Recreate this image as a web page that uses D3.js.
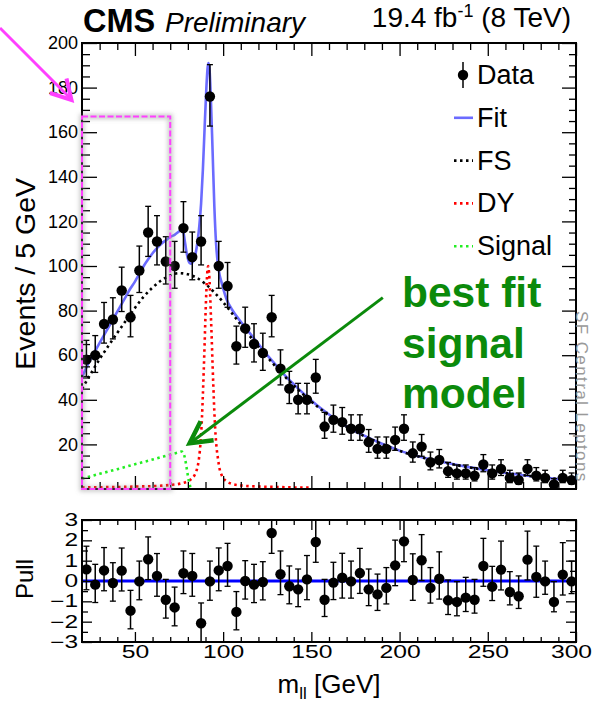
<!DOCTYPE html>
<html><head><meta charset="utf-8">
<script src="https://cdn.jsdelivr.net/npm/d3@7/dist/d3.min.js"></script>
<style>
html,body{margin:0;padding:0;background:#fff;}
svg{display:block;font-family:"Liberation Sans",Arial,Helvetica,sans-serif;}
</style></head><body>
<svg id="chart" width="592" height="702"></svg>
<script>
// Dilepton invariant mass, 5 GeV bins
const binCenters = [22.5,27.5,32.5,37.5,42.5,47.5,52.5,57.5,62.5,67.5,72.5,77.5,82.5,87.5,92.5,97.5,102.5,107.5,112.5,117.5,122.5,127.5,132.5,137.5,142.5,147.5,152.5,157.5,162.5,167.5,172.5,177.5,182.5,187.5,192.5,197.5,202.5,207.5,212.5,217.5,222.5,227.5,232.5,237.5,242.5,247.5,252.5,257.5,262.5,267.5,272.5,277.5,282.5,287.5,292.5,297.5];
const counts = [58,60,74,76,89,77,98,115,111,102,100,117,104,111,176,100,91,64,72,65,61,77,54,45,40,40,50,28,31,30,27,27,21,18,18,22,27,16,19,12,13,8,7,7,6,11,7,9,5,4,9,6,5,2,5,4];
const pulls = [0.57,-0.18,0.52,-0.10,0.51,-1.46,-0.02,1.07,0.25,-0.92,-1.30,0.38,0.25,-2.08,-0.02,0.52,0.74,-1.52,0.00,-0.18,-0.05,2.36,0.33,-0.26,-0.41,0.08,1.92,-0.92,-0.08,0.16,-0.02,0.39,-0.41,-0.66,-0.34,0.77,1.95,0.05,1.02,-0.34,0.11,-0.95,-1.03,-0.82,-0.92,0.74,-0.28,0.56,-0.54,-0.75,1.05,0.20,-0.02,-1.03,0.31,-0.02];

// Fit model curves (mass in GeV, events / 5 GeV)
const fitMass = [20,22.5,25,27.5,30,32.5,35,37.5,40,42.5,45,47.5,50,52.5,55,57.5,60,62.5,65,67.5,70,72.5,75,76.5,77.5,78.5,79.5,80.5,81.5,82.5,83.5,84.5,85.5,86.5,87.5,88.5,89.5,90.5,91.2,91.7,92.3,93,94,95,96,97,98,99,100,102,105,110,115,120,125,130,135,140,145,150,155,160,165,170,175,180,185,190,195,200,210,220,230,240,250,260,270,280,290,300];
const fitVals = [50,54.5,58.5,62,65.5,69,72.5,76,79.5,83,86.5,90,93,96.5,100,103,105.7,108,110,111.5,113,114,115.5,116.5,115,110,105,102,101,101.5,103,106,111,118,128,143,162,180,189,191,188,176,152,127,110,101,96,93,90,85,80.5,75,70,65,60,55.5,51,47,43.2,39.7,36.4,33.4,30.6,28.1,25.9,23.9,22.0,20.3,18.7,17.2,14.8,12.9,11.2,9.7,8.4,7.2,6.2,5.3,4.5,3.8];
const fsMass = [20,25,30,35,40,45,50,55,60,65,70,75,80,85,90,95,100,105,110,115,120,125,130,135,140,145,150,155,160,165,170,175,180,185,190,195,200,210,220,230,240,250,260,270,280,290,300];
const fsVals = [45,51.7,58.3,64.2,70,75.6,81.2,86.3,90.3,93.6,95.8,96.8,96.3,94.7,91.9,88.2,83.8,78.8,73.7,68.7,63.9,59.2,54.7,50.4,46.4,42.7,39.2,36.0,33.0,30.3,27.9,25.7,23.7,21.9,20.2,18.6,17.1,14.7,12.8,11.1,9.6,8.3,7.2,6.2,5.3,4.5,3.8];
const dyMass = [20,30,40,50,60,70,75,80,82,84,85,86,87,88,88.5,89,89.5,90,90.5,91,91.5,92,92.5,93,93.5,94,94.5,95,96,97,98,99,100,102,105,110,120,130,140,150];
const dyVals = [0.7,0.8,0.9,1.1,1.3,1.8,2.3,3.5,4.5,6.5,8.5,12,19,32,42,53,65,78,89,97,100,97,90,79,68,56,45,35,21,14,9,6.5,5,3.4,2.3,1.6,1.1,0.9,0.7,0.6];
const sigMass = [20,30,40,50,60,70,75,76.5,77.5,78.5,79.5,80.5,81.5,82];
const sigVals = [4.6,6.8,8.9,11.1,13.2,15.4,16.5,16.8,16.0,13.3,8.5,3.8,0.9,0.2];

// Axis ticks
const massMajor = [50,100,150,200,250,300];
const massMinor = [30,40,60,70,80,90,110,120,130,140,160,170,180,190,210,220,230,240,260,270,280,290];
const evtMajor = [20,40,60,80,100,120,140,160,180,200];
const evtMinor = d3.range(5, 200, 5).filter(v => v % 20 !== 0);
const pullMajor = [-3,-2,-1,0,1,2,3];
const pullMinor = [-2.5,-1.5,-0.5,0.5,1.5,2.5];

const legendItems = [
  {label: "Data", kind: "data"},
  {label: "Fit", kind: "line", color: "#6b6bff", dash: null},
  {label: "FS", kind: "line", color: "#000", dash: "2.5,3.5"},
  {label: "DY", kind: "line", color: "#ff0000", dash: "2.5,3.5"},
  {label: "Signal", kind: "line", color: "#22ee22", dash: "2.5,3.5"}
];

const svg = d3.select("#chart");
const L = 82, R = 576;
const x = d3.scaleLinear().domain([20, 300]).range([L, R]);
const y = d3.scaleLinear().domain([0, 200]).range([489, 43]);
const yp = d3.scaleLinear().domain([-3, 3]).range([642, 520]);

// Poisson (Gehrels) 68% interval half-widths
function poisErr(n) {
  if (n === 0) return [0, 1.841];
  const up = n + Math.sqrt(n + 0.75) + 1;
  const lo = n * Math.pow(1 - 1 / (9 * n) - 1 / (3 * Math.sqrt(n)), 3);
  return [n - lo, up - n];
}

const defs = svg.append("defs");
defs.append("clipPath").attr("id", "clipMain").append("rect")
  .attr("x", L).attr("y", 43).attr("width", R - L).attr("height", 446);
defs.append("clipPath").attr("id", "clipPull").append("rect")
  .attr("x", L).attr("y", 520).attr("width", R - L).attr("height", 122);
defs.append("filter").attr("id", "soft").attr("x", "-20%").attr("y", "-20%").attr("width", "140%").attr("height", "140%")
  .append("feGaussianBlur").attr("stdDeviation", 2.2);

// ---------- main panel ----------
const main = svg.append("g");
const curve = (xs, ys) => d3.line().x((d, i) => x(xs[i])).y((d, i) => y(ys[i])).curve(d3.curveMonotoneX)(xs);
const curves = main.append("g").attr("clip-path", "url(#clipMain)");
curves.append("path").attr("d", curve(dyMass, dyVals)).attr("fill", "none")
  .attr("stroke", "#ff0000").attr("stroke-width", 2.6).attr("stroke-dasharray", "2.5,3.5");
curves.append("path").attr("d", curve(sigMass, sigVals)).attr("fill", "none")
  .attr("stroke", "#22ee22").attr("stroke-width", 2.6).attr("stroke-dasharray", "2.5,3.5");
curves.append("path").attr("d", curve(fitMass, fitVals)).attr("fill", "none")
  .attr("stroke", "#6b6bff").attr("stroke-width", 2.6);
curves.append("path").attr("d", curve(fsMass, fsVals)).attr("fill", "none")
  .attr("stroke", "#000").attr("stroke-width", 2.6).attr("stroke-dasharray", "2.5,3.5");

const pts = main.append("g");
binCenters.forEach((m, i) => {
  const n = counts[i], e = poisErr(n);
  const cx = x(m);
  pts.append("line").attr("x1", cx).attr("x2", cx).attr("y1", y(n - e[0])).attr("y2", y(n + e[1]))
    .attr("stroke", "#000").attr("stroke-width", 1.5);
  [n - e[0], n + e[1]].forEach(v => pts.append("line").attr("x1", cx - 3).attr("x2", cx + 3)
    .attr("y1", y(v)).attr("y2", y(v)).attr("stroke", "#000").attr("stroke-width", 1.3));
  pts.append("circle").attr("cx", cx).attr("cy", y(n)).attr("r", 5.2).attr("fill", "#000");
});

// main axes (inward ticks)
function styleAxis(g) { g.select(".domain").remove(); g.selectAll("line").attr("stroke", "#000").attr("stroke-width", 1.3); }
main.append("g").attr("transform", `translate(${L},0)`)
  .call(d3.axisLeft(y).tickValues(evtMajor).tickSize(-15).tickPadding(4).tickFormat(d3.format("d")))
  .call(styleAxis)
  .call(g => g.selectAll("text").attr("font-size", 18).attr("fill", "#000").attr("font-family", "Liberation Sans, Arial, sans-serif"));
main.append("g").attr("transform", `translate(${L},0)`)
  .call(d3.axisLeft(y).tickValues(evtMinor).tickSize(-8).tickFormat("")).call(styleAxis);
main.append("g").attr("transform", `translate(${R},0)`)
  .call(d3.axisRight(y).tickValues(evtMajor).tickSize(-14).tickFormat("")).call(styleAxis);
main.append("g").attr("transform", `translate(${R},0)`)
  .call(d3.axisRight(y).tickValues(evtMinor).tickSize(-7).tickFormat("")).call(styleAxis);
[[489, d3.axisBottom], [43, d3.axisTop]].forEach(([yy, ax]) => {
  main.append("g").attr("transform", `translate(0,${yy})`)
    .call(ax(x).tickValues(massMajor).tickSize(-13).tickFormat("")).call(styleAxis);
  main.append("g").attr("transform", `translate(0,${yy})`)
    .call(ax(x).tickValues(massMinor).tickSize(-7).tickFormat("")).call(styleAxis);
});
main.append("rect").attr("x", L).attr("y", 43).attr("width", R - L).attr("height", 446)
  .attr("fill", "none").attr("stroke", "#000").attr("stroke-width", 2);

// legend
const leg = svg.append("g");
legendItems.forEach((it, i) => {
  const cy = 75 + i * 42.8;
  if (it.kind === "data") {
    leg.append("line").attr("x1", 463).attr("x2", 463).attr("y1", cy - 13).attr("y2", cy + 13)
      .attr("stroke", "#000").attr("stroke-width", 1.5);
    leg.append("circle").attr("cx", 463).attr("cy", cy).attr("r", 5.2).attr("fill", "#000");
  } else {
    const ln = leg.append("line").attr("x1", 454).attr("x2", 473).attr("y1", cy).attr("y2", cy)
      .attr("stroke", it.color).attr("stroke-width", 2.6);
    if (it.dash) ln.attr("stroke-dasharray", it.dash);
  }
  leg.append("text").attr("x", 477).attr("y", cy + 9).attr("font-size", 27).attr("fill", "#000").text(it.label);
});

// header
svg.append("text").attr("x", 83).attr("y", 32).attr("font-size", 32.5).attr("font-weight", "bold").text("CMS");
svg.append("text").attr("x", 165).attr("y", 32).attr("font-size", 28).attr("font-style", "italic").text("Preliminary");
const lumi = svg.append("text").attr("x", 571).attr("y", 27).attr("font-size", 28).attr("text-anchor", "end");
lumi.append("tspan").text("19.4 fb");
lumi.append("tspan").attr("font-size", 18).attr("dy", -10).text("-1");
lumi.append("tspan").attr("dy", 10).text(" (8 TeV)");

// axis titles
svg.append("text").attr("transform", "translate(35,178) rotate(-90)").attr("text-anchor", "end")
  .attr("font-size", 28.5).text("Events / 5 GeV");
svg.append("text").attr("transform", "translate(33,579) rotate(-90)").attr("text-anchor", "middle")
  .attr("font-size", 24).text("Pull");
const xt = svg.append("text").attr("x", 329).attr("y", 693).attr("font-size", 26).attr("text-anchor", "middle");
xt.append("tspan").text("m");
xt.append("tspan").attr("font-size", 17).attr("dy", 6).text("ll");
xt.append("tspan").attr("dy", -6).text(" [GeV]");

// side note along the right edge
svg.append("text").attr("transform", "translate(576,311) rotate(90)").attr("font-size", 17)
  .attr("letter-spacing", 1.4).attr("fill", "#9a9a9a").text("SF Central Leptons");

// ---------- pull panel ----------
const pull = svg.append("g");
pull.append("line").attr("x1", L).attr("x2", R).attr("y1", yp(0)).attr("y2", yp(0))
  .attr("stroke", "#0000ff").attr("stroke-width", 3);
const pp = pull.append("g").attr("clip-path", "url(#clipPull)");
binCenters.forEach((m, i) => {
  const p = pulls[i], e = poisErr(counts[i]);
  const ref = p > 0 ? e[0] : e[1];
  const lo = p - e[0] / ref, hi = p + e[1] / ref;
  const cx = x(m);
  pp.append("line").attr("x1", cx).attr("x2", cx).attr("y1", yp(lo)).attr("y2", yp(hi))
    .attr("stroke", "#000").attr("stroke-width", 1.5);
  [lo, hi].forEach(v => pp.append("line").attr("x1", cx - 3).attr("x2", cx + 3)
    .attr("y1", yp(v)).attr("y2", yp(v)).attr("stroke", "#000").attr("stroke-width", 1.3));
  pp.append("circle").attr("cx", cx).attr("cy", yp(p)).attr("r", 5.2).attr("fill", "#000");
});
pull.append("g").attr("transform", `translate(${L},0)`)
  .call(d3.axisLeft(yp).tickValues(pullMajor).tickSize(-10).tickPadding(4).tickFormat(d3.format("d")))
  .call(styleAxis)
  .call(g => g.selectAll("text").attr("font-size", 17.5).attr("fill", "#000")
    .attr("transform", "translate(-4,0) scale(1.4,1) translate(4,0)"));
pull.append("g").attr("transform", `translate(${L},0)`)
  .call(d3.axisLeft(yp).tickValues(pullMinor).tickSize(-6).tickFormat("")).call(styleAxis);
pull.append("g").attr("transform", `translate(${R},0)`)
  .call(d3.axisRight(yp).tickValues(pullMajor).tickSize(-10).tickFormat("")).call(styleAxis);
pull.append("g").attr("transform", `translate(${R},0)`)
  .call(d3.axisRight(yp).tickValues(pullMinor).tickSize(-6).tickFormat("")).call(styleAxis);
pull.append("g").attr("transform", "translate(0,642)")
  .call(d3.axisBottom(x).tickValues(massMajor).tickSize(-10).tickPadding(3).tickFormat(d3.format("d")))
  .call(styleAxis)
  .call(g => g.selectAll("text").attr("font-size", 19).attr("fill", "#000")
    .attr("transform", d => d === 300 ? "translate(-5,0) scale(1.3,1)" : "scale(1.3,1)"));
pull.append("g").attr("transform", "translate(0,642)")
  .call(d3.axisBottom(x).tickValues(massMinor).tickSize(-5).tickFormat("")).call(styleAxis);
pull.append("g").attr("transform", "translate(0,520)")
  .call(d3.axisTop(x).tickValues(massMajor).tickSize(-10).tickFormat("")).call(styleAxis);
pull.append("g").attr("transform", "translate(0,520)")
  .call(d3.axisTop(x).tickValues(massMinor).tickSize(-5).tickFormat("")).call(styleAxis);
pull.append("rect").attr("x", L).attr("y", 520).attr("width", R - L).attr("height", 122)
  .attr("fill", "none").attr("stroke", "#000").attr("stroke-width", 2);

// ---------- annotations ----------
const ann = svg.append("g");
// highlighted low-mass window
const bx0 = x(20), bx1 = x(70), by0 = y(167), by1 = y(0);
ann.append("rect").attr("x", bx0).attr("y", by0).attr("width", bx1 - bx0).attr("height", by1 - by0)
  .attr("fill", "none").attr("stroke", "#888").attr("stroke-opacity", 0.45).attr("stroke-width", 5)
  .attr("filter", "url(#soft)");
ann.append("rect").attr("x", bx0).attr("y", by0).attr("width", bx1 - bx0).attr("height", by1 - by0)
  .attr("fill", "none").attr("stroke", "#ff40ff").attr("stroke-width", 2).attr("stroke-dasharray", "6,2.5");
// pointer into the window
ann.append("line").attr("x1", 0).attr("y1", 28).attr("x2", 71).attr("y2", 99)
  .attr("stroke", "#ff40ff").attr("stroke-width", 3);
ann.append("path").attr("d", "M50,93 L71.5,100 L66.5,78.5").attr("fill", "none")
  .attr("stroke", "#ff40ff").attr("stroke-width", 4).attr("stroke-linejoin", "miter");

// signal callout
const green = "#0b8a0b";
const tip = [x(81), y(20.5)], tail = [x(190.5), y(85.8)];
ann.append("line").attr("x1", tail[0]).attr("y1", tail[1]).attr("x2", tip[0] + 3).attr("y2", tip[1] - 2)
  .attr("stroke", green).attr("stroke-width", 3);
ann.append("path").attr("d", `M${tip[0] + 11},${tip[1] - 22} L${tip[0]},${tip[1]} L${tip[0] + 24},${tip[1] - 3}`)
  .attr("fill", "none").attr("stroke", green).attr("stroke-width", 4.5);
["best fit", "signal", "model"].forEach((t, i) => {
  ann.append("text").attr("x", 402).attr("y", 307 + i * 50.5).attr("font-size", 42.5)
    .attr("font-weight", "bold").attr("fill", green).text(t);
});
</script>
</body></html>
